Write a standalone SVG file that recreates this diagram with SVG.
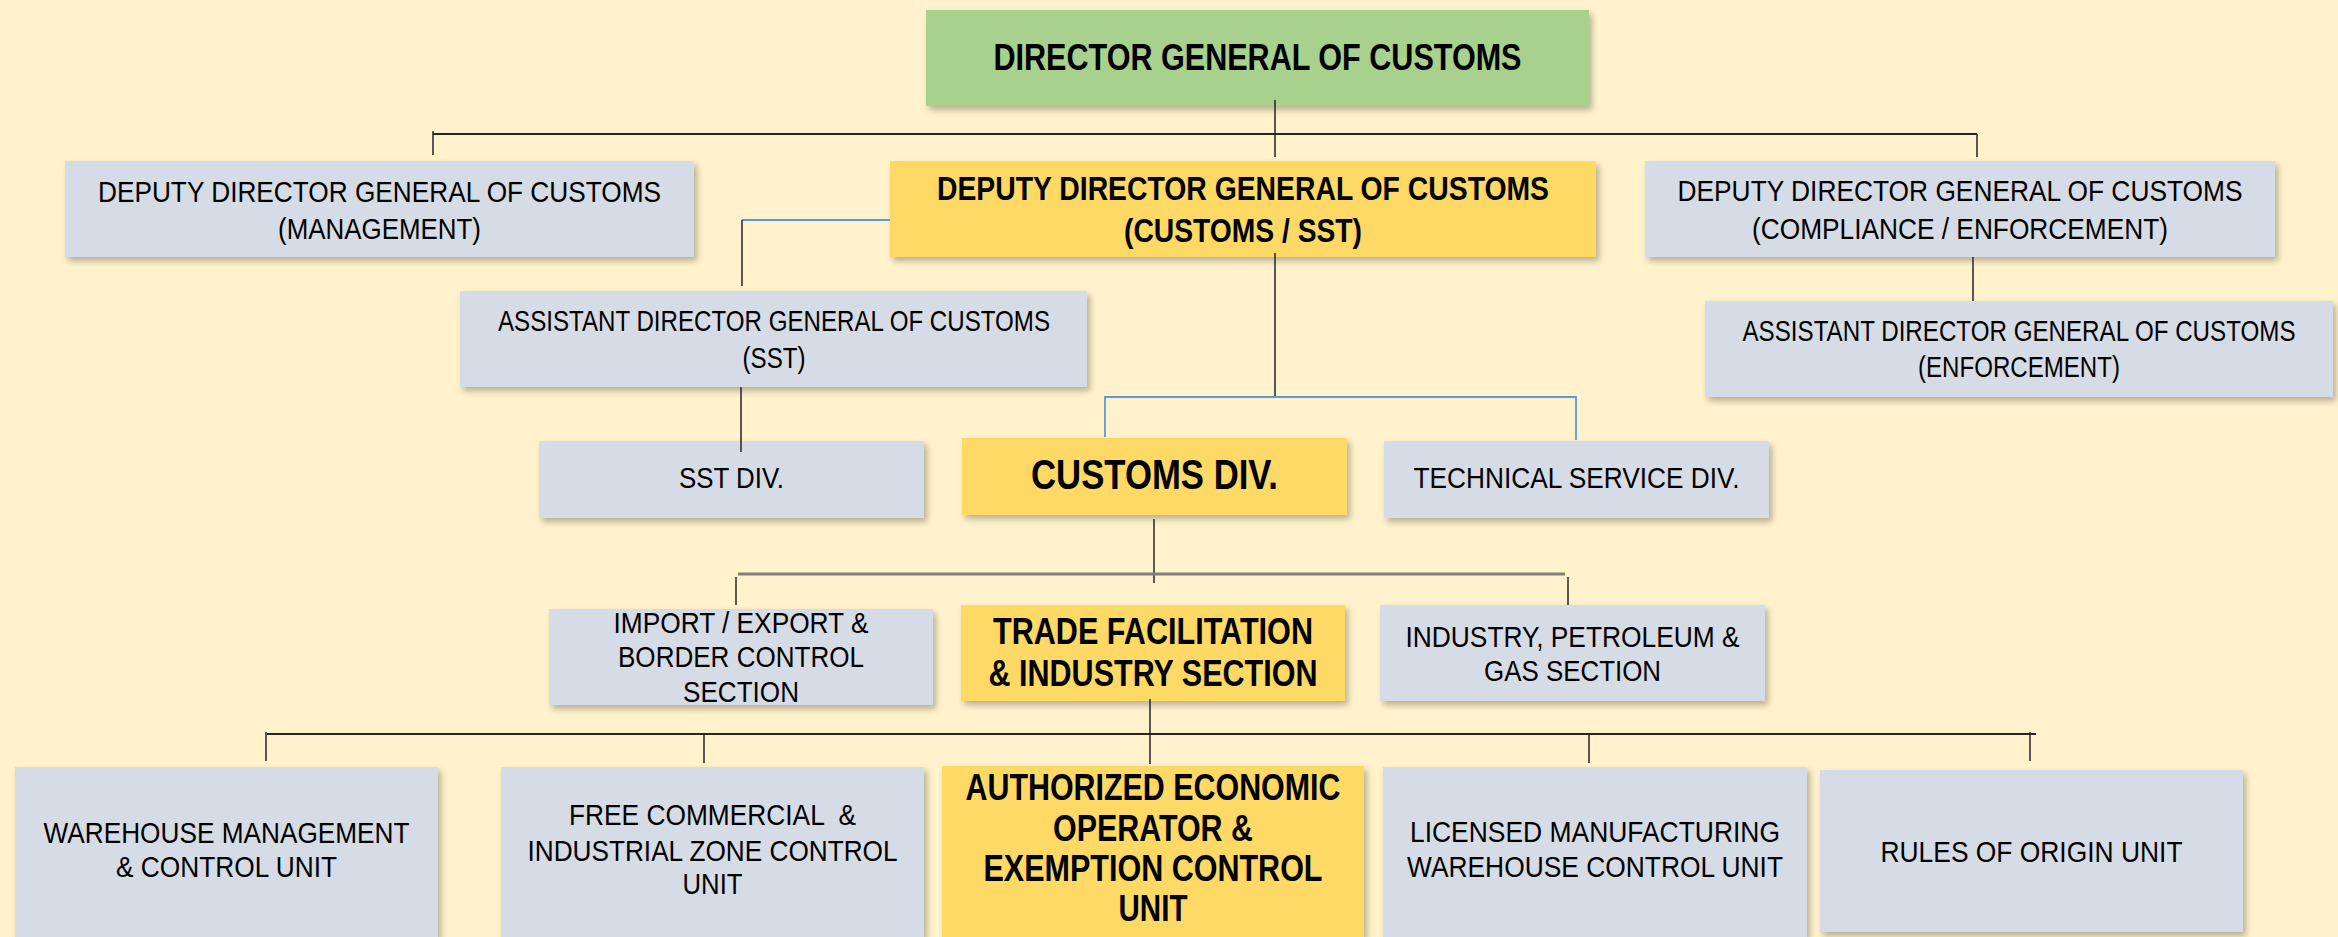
<svg xmlns="http://www.w3.org/2000/svg" width="2338" height="937" viewBox="0 0 2338 937">
<style>
.bg{fill:#FFF2CC}
.g{fill:#D6DCE5}
.y{fill:#FFD966}
.gr{fill:#A9D18E}
.box{filter:url(#sh)}
text{font-family:"Liberation Sans",Arial,sans-serif;fill:#000;text-anchor:middle}
.t{font-size:29px}
.b{font-size:36px;font-weight:bold}
.ln{stroke:#262626;stroke-width:1.5;fill:none}
.bus{stroke:#262626;stroke-width:2;fill:none}
.blue{stroke:#5B9BD5;stroke-width:1.8;fill:none}
.grey{stroke:#7F7F7F;stroke-width:3;fill:none}
</style>
<defs>
<filter id="sh" x="-5%" y="-10%" width="112%" height="125%">
<feDropShadow dx="3" dy="4" stdDeviation="3" flood-color="#000" flood-opacity="0.28"/>
</filter>
</defs>
<rect class="bg" x="0" y="0" width="2338" height="937"/>

<g id="dg"><rect class="box gr" x="926" y="10" width="663" height="96"/>
<text class="b" x="1257.5" y="70" font-size="37" textLength="528" lengthAdjust="spacingAndGlyphs" style="font-size:37px">DIRECTOR GENERAL OF CUSTOMS</text></g>

<g id="ddg-management"><rect class="box g" x="65" y="161" width="629" height="96"/>
<text class="t" x="379.5" y="202" textLength="563" lengthAdjust="spacingAndGlyphs">DEPUTY DIRECTOR GENERAL OF CUSTOMS</text>
<text class="t" x="379.5" y="239" textLength="203" lengthAdjust="spacingAndGlyphs">(MANAGEMENT)</text></g>

<g id="ddg-customs"><rect class="box y" x="890" y="161" width="706" height="96"/>
<text class="b" x="1243" y="200" textLength="612" lengthAdjust="spacingAndGlyphs" style="font-size:34px">DEPUTY DIRECTOR GENERAL OF CUSTOMS</text>
<text class="b" x="1243" y="242" textLength="238" lengthAdjust="spacingAndGlyphs" style="font-size:34px">(CUSTOMS / SST)</text></g>

<g id="ddg-compliance"><rect class="box g" x="1645" y="161" width="630" height="96"/>
<text class="t" x="1960" y="201" textLength="565" lengthAdjust="spacingAndGlyphs">DEPUTY DIRECTOR GENERAL OF CUSTOMS</text>
<text class="t" x="1960" y="239" textLength="416" lengthAdjust="spacingAndGlyphs">(COMPLIANCE / ENFORCEMENT)</text></g>

<g id="adg-sst"><rect class="box g" x="460" y="291" width="627" height="96"/>
<text class="t" x="774" y="331" textLength="552" lengthAdjust="spacingAndGlyphs">ASSISTANT DIRECTOR GENERAL OF CUSTOMS</text>
<text class="t" x="774" y="368" textLength="63" lengthAdjust="spacingAndGlyphs">(SST)</text></g>

<g id="adg-enforcement"><rect class="box g" x="1705" y="301" width="628" height="96"/>
<text class="t" x="2019" y="341" textLength="553" lengthAdjust="spacingAndGlyphs">ASSISTANT DIRECTOR GENERAL OF CUSTOMS</text>
<text class="t" x="2019" y="377" textLength="202" lengthAdjust="spacingAndGlyphs">(ENFORCEMENT)</text></g>

<g id="sst-div"><rect class="box g" x="539" y="441" width="385" height="77"/>
<text class="t" x="731.5" y="488" textLength="105" lengthAdjust="spacingAndGlyphs">SST DIV.</text></g>

<g id="customs-div"><rect class="box y" x="962" y="438" width="385" height="77"/>
<text class="b" x="1154.5" y="489" textLength="247" lengthAdjust="spacingAndGlyphs" style="font-size:42px">CUSTOMS DIV.</text></g>

<g id="technical-service-div"><rect class="box g" x="1384" y="441" width="385" height="77"/>
<text class="t" x="1576.5" y="488" textLength="326" lengthAdjust="spacingAndGlyphs">TECHNICAL SERVICE DIV.</text></g>

<g id="import-export"><rect class="box g" x="549" y="609" width="384" height="96"/>
<text class="t" x="741" y="633" textLength="255" lengthAdjust="spacingAndGlyphs">IMPORT / EXPORT &amp;</text>
<text class="t" x="741" y="667" textLength="246" lengthAdjust="spacingAndGlyphs">BORDER CONTROL</text>
<text class="t" x="741" y="702" textLength="116" lengthAdjust="spacingAndGlyphs">SECTION</text></g>

<g id="trade-facilitation"><rect class="box y" x="961" y="605" width="384" height="96"/>
<text class="b" x="1153" y="644" textLength="320" lengthAdjust="spacingAndGlyphs">TRADE FACILITATION</text>
<text class="b" x="1153" y="686" textLength="329" lengthAdjust="spacingAndGlyphs">&amp; INDUSTRY SECTION</text></g>

<g id="industry-petroleum"><rect class="box g" x="1380" y="605" width="385" height="96"/>
<text class="t" x="1572.5" y="647" textLength="334" lengthAdjust="spacingAndGlyphs">INDUSTRY, PETROLEUM &amp;</text>
<text class="t" x="1572.5" y="681" textLength="177" lengthAdjust="spacingAndGlyphs">GAS SECTION</text></g>

<g id="warehouse-management"><rect class="box g" x="15" y="767" width="423" height="170"/>
<text class="t" x="226.5" y="843" textLength="366" lengthAdjust="spacingAndGlyphs">WAREHOUSE MANAGEMENT</text>
<text class="t" x="226.5" y="877" textLength="221" lengthAdjust="spacingAndGlyphs">&amp; CONTROL UNIT</text></g>

<g id="free-commercial"><rect class="box g" x="501" y="767" width="423" height="170"/>
<text class="t" x="712.5" y="825" textLength="287" lengthAdjust="spacingAndGlyphs" xml:space="preserve">FREE COMMERCIAL  &amp;</text>
<text class="t" x="712.5" y="861" textLength="370" lengthAdjust="spacingAndGlyphs">INDUSTRIAL ZONE CONTROL</text>
<text class="t" x="712.5" y="894" textLength="60" lengthAdjust="spacingAndGlyphs">UNIT</text></g>

<g id="aeo-exemption"><rect class="box y" x="942" y="766" width="422" height="171"/>
<text class="b" x="1153" y="800" textLength="375" lengthAdjust="spacingAndGlyphs">AUTHORIZED ECONOMIC</text>
<text class="b" x="1153" y="841" textLength="200" lengthAdjust="spacingAndGlyphs">OPERATOR &amp;</text>
<text class="b" x="1153" y="881" textLength="339" lengthAdjust="spacingAndGlyphs">EXEMPTION CONTROL</text>
<text class="b" x="1153" y="921" textLength="69" lengthAdjust="spacingAndGlyphs">UNIT</text></g>

<g id="licensed-manufacturing"><rect class="box g" x="1383" y="767" width="424" height="170"/>
<text class="t" x="1595" y="842" textLength="370" lengthAdjust="spacingAndGlyphs">LICENSED MANUFACTURING</text>
<text class="t" x="1595" y="877" textLength="376" lengthAdjust="spacingAndGlyphs">WAREHOUSE CONTROL UNIT</text></g>

<g id="rules-of-origin"><rect class="box g" x="1820" y="770" width="423" height="162"/>
<text class="t" x="2031.5" y="862" textLength="302" lengthAdjust="spacingAndGlyphs">RULES OF ORIGIN UNIT</text></g>

<g id="connectors">
<path class="bus" d="M433 134H1977"/>
<path class="ln" d="M433 131V155M1977 134V157M1275 100V157"/>
<path class="blue" d="M890 220H742"/>
<path class="ln" d="M742 220V286M741 387V452M1275 253V396M1973 257V301"/>
<path class="blue" d="M1105 437V397H1576V440"/>
<path class="ln" d="M1154 519V583"/>
<path class="grey" d="M738 574H1565"/>
<path class="ln" d="M736 577V605M1568 577V605M1150 699V764"/>
<path class="bus" d="M267 734H2036"/>
<path class="ln" d="M266 732V761M704 734V763M1589 734V763M2030 732V761"/>
</g>
</svg>
